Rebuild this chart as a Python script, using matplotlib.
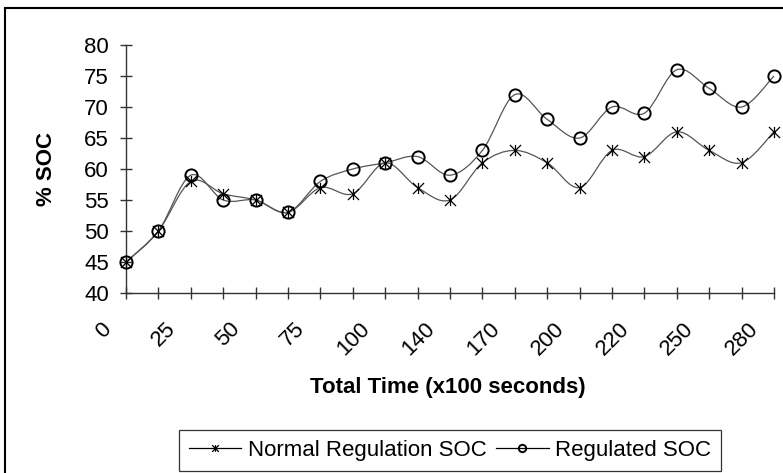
import numpy as np
import matplotlib
matplotlib.use("Agg")
import matplotlib.pyplot as plt
from matplotlib.path import Path
from matplotlib.patches import PathPatch, Rectangle
from matplotlib.lines import Line2D
from matplotlib.transforms import ScaledTranslation

# ---- data ----
n_points = 21  # sample index along the time axis
tick_labels = ['0', '25', '50', '75', '100', '140', '170', '200', '220', '250', '280']  # every 2nd sample
normal_soc = [45, 50, 58, 56, 55, 53, 57, 56, 61, 57, 55, 61, 63, 61, 57, 63, 62, 66, 63, 61, 66]
regulated_soc = [45, 50, 59, 55, 55, 53, 58, 60, 61, 62, 59, 63, 72, 68, 65, 70, 69, 76, 73, 70, 75]
series_names = ['Normal Regulation SOC', 'Regulated SOC']

plt.rcParams['font.family'] = ['Liberation Sans', 'DejaVu Sans']

W, H = 783, 473
fig = plt.figure(figsize=(W / 100, H / 100), dpi=100)
fig.patch.set_facecolor('white')

ax_l, ax_r, ax_t, ax_b = 126, 774, 45, 293
ax = fig.add_axes([ax_l / W, 1 - ax_b / H, (ax_r - ax_l) / W, (ax_b - ax_t) / H])

x = np.arange(n_points)


def smooth_path(xs, ys):
    pts = np.column_stack([xs, ys]).astype(float)
    n = len(pts)
    verts = [pts[0]]
    codes = [Path.MOVETO]
    for i in range(n - 1):
        p0 = pts[max(i - 1, 0)]
        p1 = pts[i]
        p2 = pts[i + 1]
        p3 = pts[min(i + 2, n - 1)]
        c1 = p1 + (p2 - p0) / 6.0
        c2 = p2 - (p3 - p1) / 6.0
        verts += [c1, c2, p2]
        codes += [Path.CURVE4] * 3
    return Path(verts, codes)


asterisk = Path([(0, -1), (0, 1), (-1, -1), (1, 1), (-1, 1), (1, -1)],
                [Path.MOVETO, Path.LINETO] * 3)

line_col = '#555555'
for ys in (normal_soc, regulated_soc):
    ax.add_patch(PathPatch(smooth_path(x, ys), facecolor='none', edgecolor=line_col,
                           lw=0.9, clip_on=False, zorder=2))

ax.plot(x, normal_soc, linestyle='none', marker=asterisk, markersize=8,
        markeredgecolor='black', markeredgewidth=0.9, clip_on=False, zorder=3)
ax.plot(x, regulated_soc, linestyle='none', marker='o', markersize=8.8,
        markerfacecolor='none', markeredgecolor='black', markeredgewidth=1.4,
        clip_on=False, zorder=4)

ax.set_xlim(0, n_points - 1)
ax.set_ylim(40, 80)
ax.set_yticks(np.arange(40, 81, 5))
ax.set_xticks(x)
ax.set_xticklabels([tick_labels[i // 2] if i % 2 == 0 else '' for i in x])

for s in ('top', 'right'):
    ax.spines[s].set_visible(False)
for s in ('left', 'bottom'):
    ax.spines[s].set_color('#333333')
    ax.spines[s].set_linewidth(1.0)

ax.tick_params(axis='both', direction='inout', length=8.6, width=1.0, color='#333333',
               labelsize=16, labelcolor='black')
ax.tick_params(axis='y', pad=7.9)
ax.tick_params(axis='x', pad=19.4)

off = ScaledTranslation(-0.185, 0, fig.dpi_scale_trans)
for lab in ax.get_xticklabels():
    lab.set_rotation(45)
    lab.set_rotation_mode('anchor')
    lab.set_ha('right')
    lab.set_va('center')
    lab.set_transform(lab.get_transform() + off)

ax.set_ylabel('% SOC', fontsize=16, fontweight='bold')
ax.yaxis.set_label_coords(-0.1065, 0.5)
ax.set_xlabel('Total Time (x100 seconds)', fontsize=16, fontweight='bold')
ax.xaxis.set_label_coords(0.497, -0.338)

handles = [
    Line2D([], [], color='black', lw=0.9, marker=asterisk, markersize=8,
           markeredgecolor='black', markeredgewidth=0.9),
    Line2D([], [], color='black', lw=0.9, marker='o', markersize=8.8,
           markerfacecolor='none', markeredgecolor='black', markeredgewidth=1.4),
]
leg = fig.legend(handles, series_names, loc='center',
                 bbox_to_anchor=(450 / W, 1 - 450.5 / H), bbox_transform=fig.transFigure,
                 ncol=2, fontsize=16, frameon=True, fancybox=False, shadow=False,
                 handlelength=2.35, handletextpad=0.28, columnspacing=0.45,
                 borderpad=0.45, borderaxespad=0, markerscale=0.6)
leg.get_frame().set_edgecolor('black')
leg.get_frame().set_linewidth(0.9)

# chart-area frame: left and top edges visible, right/bottom run off the canvas
fig.add_artist(Rectangle((4.5 / W, -0.05), (W + 20) / W, (1 - 8.5 / H) + 0.05,
                         transform=fig.transFigure, facecolor='none',
                         edgecolor='black', lw=1.5))

fig.savefig('out.png', dpi=100)
